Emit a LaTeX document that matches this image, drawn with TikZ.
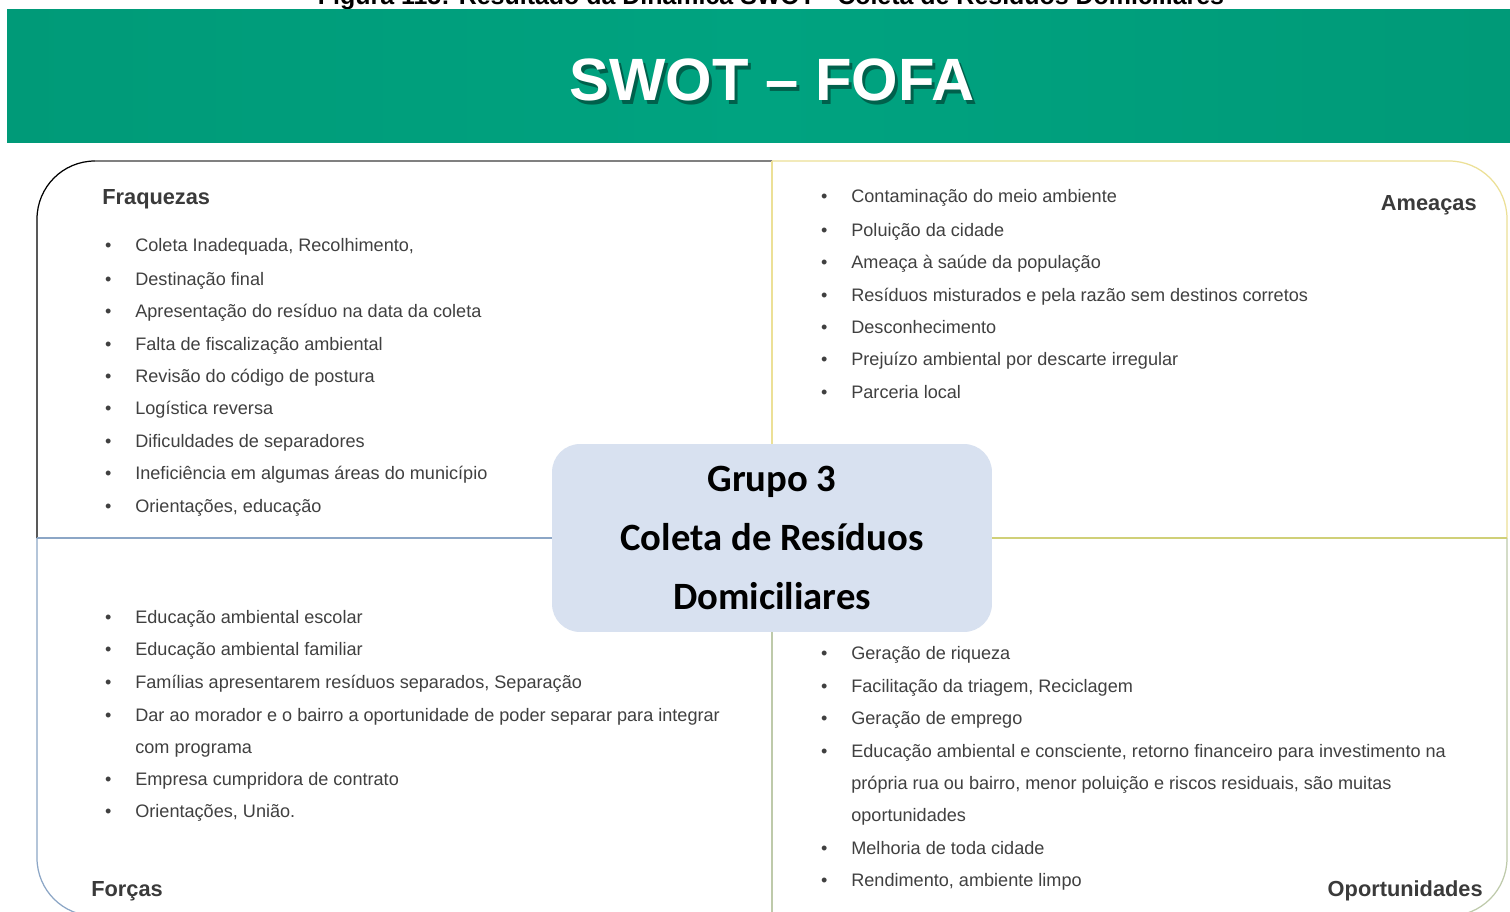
\documentclass[tikz,border=0pt]{standalone}
\usepackage{fontspec}
\setmainfont{Liberation Sans}
\newfontfamily\boxfont{Carlito}
\usetikzlibrary{positioning}

\definecolor{hdrgreen}{RGB}{0,154,120}
\definecolor{hdrlight}{RGB}{0,163,128}
\definecolor{txtgray}{RGB}{64,64,64}
\definecolor{headgray}{RGB}{58,58,58}
\definecolor{boxblue}{RGB}{216,225,240}
\definecolor{tlgray}{RGB}{128,128,128}
\definecolor{tryellow}{RGB}{236,224,150}
\definecolor{midyellow}{RGB}{208,208,120}
\definecolor{blblue}{RGB}{140,166,198}
\definecolor{brgreen}{RGB}{190,202,170}

\tikzset{
  item/.style={anchor=base west, inner sep=0pt, text=txtgray,
    font=\fontsize{10.3}{12.5}\selectfont},
  quadhead/.style={inner sep=0pt, text=headgray,
    font=\bfseries\fontsize{12.4}{15}\selectfont},
  frame/.style={line width=0.7pt, rounded corners=1.16cm},
  centerbox/.style={fill=boxblue, rounded corners=0.56cm, inner sep=0pt,
    minimum width=8.8cm, minimum height=3.76cm, align=center,
    font=\boxfont\bfseries\fontsize{22}{33.6}\selectfont},
  title/.style={inner sep=0pt, font=\bfseries\fontsize{34}{40}\selectfont},
}
\newcommand\bul{\llap{\textbullet\hspace{13.6pt}}}

\begin{document}
\begin{tikzpicture}[x=0.02cm, y=-0.02cm]
    \useasboundingbox (0,0) rectangle (1510,912);
    \fill[white] (0,0) rectangle (1510,912);

    % Legenda cortada no topo
    \node[anchor=base, inner sep=0pt, font=\bfseries\fontsize{14.2}{16}\selectfont] (cap) at (771,5)
        {Figura 115: Resultado da Dinâmica SWOT - Coleta de Resíduos Domiciliares};

    % Faixa verde do titulo
    \shade[left color=hdrgreen, right color=hdrgreen, middle color=hdrlight] (7,10) rectangle (1510,143);
    \node[title, text=black, opacity=0.4] (ttlshadow) at (775,84) {SWOT – FOFA};
    \node[title, text=white] (ttl) at (772,80) {SWOT – FOFA};

    % Caixa central
    \node[centerbox] (grp) at (772,538) {Grupo 3\\Coleta de Resíduos\\Domiciliares};

    \coordinate (topmid) at (772,161);
    \coordinate (botmid) at (772,916);
    \coordinate (leftmid) at (37,538);
    \coordinate (rightmid) at (1507,538);

    % Quadrantes
    \draw[frame, black] (topmid) -- (37,161) -- (leftmid);
    \draw[line width=0.8pt, tlgray] (topmid) -- (95,161);
    \draw[frame, tryellow] (topmid) -- (1507,161) -- (rightmid);
    \draw[frame, blblue] (leftmid) -- (37,916) -- (botmid);
    \draw[frame, brgreen] (rightmid) -- (1507,916) -- (botmid);
    \draw[line width=0.7pt, tryellow] (topmid) -- (grp.north);
    \draw[line width=0.7pt, brgreen] (grp.south) -- (botmid);
    \draw[line width=0.7pt, blblue] (leftmid) -- (grp.west);
    \draw[line width=0.7pt, midyellow] (grp.east) -- (rightmid);

    % Fraquezas
    \node[quadhead, anchor=base west] (hfr) at (102,205) {Fraquezas};
    \foreach \y/\txt [count=\i] in {246/{Coleta Inadequada, Recolhimento,}, 279/Destinação final,
        311/Apresentação do resíduo na data da coleta, 344/Falta de fiscalização ambiental,
        376/Revisão do código de postura, 408/Logística reversa, 441/Dificuldades de separadores,
        473/Ineficiência em algumas áreas do município, 506/{Orientações, educação}}
        \node[item] (fr\i) at (135,\y+6) {\bul\txt};

    % Ameacas
    \node[quadhead, anchor=base east] (ham) at (1477,211) {Ameaças};
    \foreach \y/\txt [count=\i] in {197/Contaminação do meio ambiente, 230/Poluição da cidade,
        262/Ameaça à saúde da população, 295/Resíduos misturados e pela razão sem destinos corretos,
        327/Desconhecimento, 359/Prejuízo ambiental por descarte irregular, 392/Parceria local}
        \node[item] (am\i) at (851,\y+6) {\bul\txt};

    % Forcas
    \node[quadhead, anchor=base west] (hfo) at (91,896) {Forças};
    \foreach \y/\txt [count=\i] in {617/Educação ambiental escolar, 649/Educação ambiental familiar,
        682/{Famílias apresentarem resíduos separados, Separação},
        715/Dar ao morador e o bairro a oportunidade de poder separar para integrar,
        779/Empresa cumpridora de contrato, 811/{Orientações, União.}}
        \node[item] (fo\i) at (135,\y+6) {\bul\txt};
    \node[item] (fo4b) at ([yshift=-18.4pt]fo4.base west) {com programa};

    % Oportunidades
    \node[quadhead, anchor=base east] (hop) at (1483,896) {Oportunidades};
    \foreach \y/\txt [count=\i] in {653/Geração de riqueza, 686/{Facilitação da triagem, Reciclagem},
        718/Geração de emprego,
        751/{Educação ambiental e consciente, retorno financeiro para investimento na},
        848/Melhoria de toda cidade, 880/{Rendimento, ambiente limpo}}
        \node[item] (op\i) at (851,\y+6) {\bul\txt};
    \node[item] (op4b) at ([yshift=-18.4pt]op4.base west)
        {própria rua ou bairro, menor poluição e riscos residuais, são muitas};
    \node[item] (op4c) at ([yshift=-18.4pt]op4b.base west) {oportunidades};
\end{tikzpicture}
\end{document}
